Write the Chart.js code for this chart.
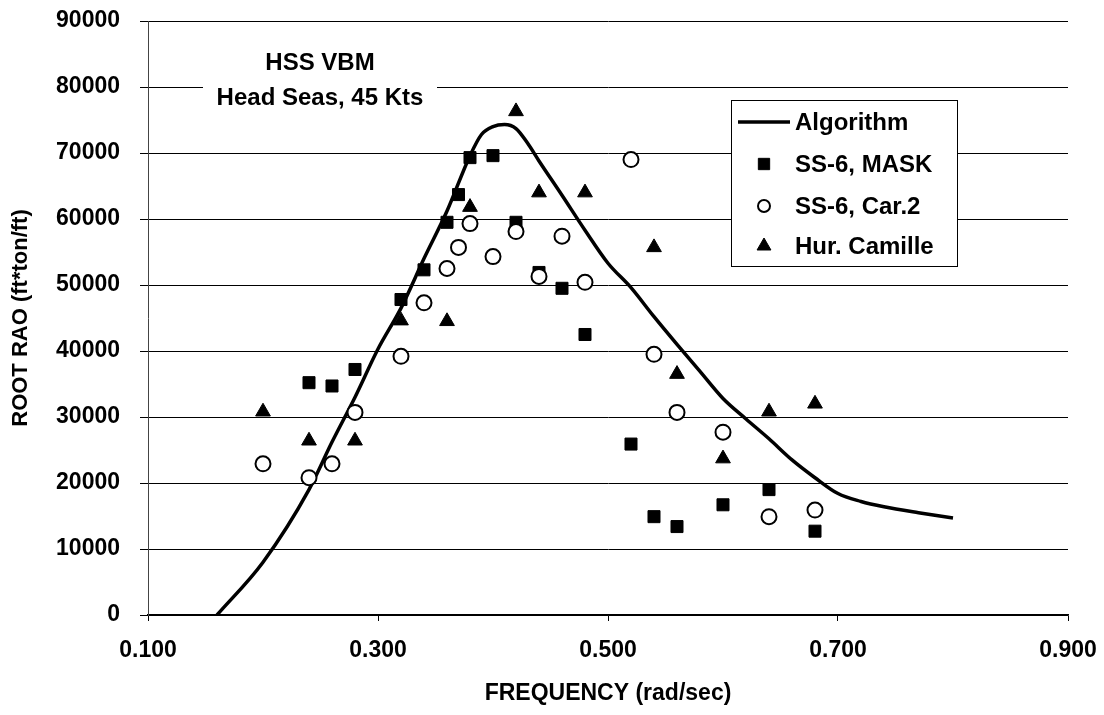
<!DOCTYPE html>
<html lang="en">
<head>
    <meta charset="UTF-8">
    <title>HSS VBM - Root RAO</title>
    <script src="https://cdn.jsdelivr.net/npm/chart.js"></script>
    <style>
        body {
            margin: 0;
            padding: 0;
            background: #fff;
        }
        .chart-box {
            position: relative;
            width: 1104px;
            height: 715px;
        }
    </style>
</head>
<body>
    <div class="chart-box">
        <canvas id="raoChart" width="1104" height="715"></canvas>
    </div>

    <script>
        // Algorithm curve
        const algoFreq = [0.16, 0.20, 0.24, 0.26, 0.28, 0.30, 0.32, 0.34, 0.36, 0.38, 0.39, 0.40, 0.41, 0.42, 0.43, 0.44,
                          0.46, 0.48, 0.50, 0.52, 0.54, 0.56, 0.58, 0.60, 0.62, 0.64, 0.66, 0.68, 0.70, 0.72, 0.74, 0.77, 0.80];
        const algoRao  = [0, 8000, 19000, 26200, 33000, 40300, 46500, 54000, 61200, 69600, 72800, 74000, 74300, 73700, 71500, 68800,
                          63600, 58300, 53300, 49600, 45200, 41000, 36900, 32800, 29700, 26700, 23500, 20800, 18400, 17200, 16400, 15500, 14700];

        // SS-6, MASK (filled squares)
        const maskFreq = [0.24, 0.26, 0.28, 0.32, 0.34, 0.36, 0.37, 0.38, 0.40, 0.42, 0.44, 0.46, 0.48, 0.52, 0.54, 0.56, 0.60, 0.64, 0.68];
        const maskRao  = [35200, 34700, 37200, 47800, 52300, 59500, 63700, 69300, 69600, 59500, 51900, 49500, 42500, 25900, 14900, 13400, 16700, 19000, 12700];

        // SS-6, Car.2 (open circles)
        const car2Freq = [0.20, 0.24, 0.26, 0.28, 0.32, 0.34, 0.36, 0.37, 0.38, 0.40, 0.42, 0.44, 0.46, 0.48, 0.52, 0.54, 0.56, 0.60, 0.64, 0.68];
        const car2Rao  = [22900, 20800, 22900, 30700, 39200, 47300, 52500, 55700, 59300, 54300, 58100, 51300, 57400, 50400, 69000, 39500, 30700, 27700, 14900, 15900];

        // Hur. Camille (filled triangles)
        const camilleFreq = [0.20, 0.24, 0.28, 0.32, 0.36, 0.38, 0.42, 0.44, 0.48, 0.54, 0.56, 0.60, 0.64, 0.68];
        const camilleRao  = [30800, 26400, 26400, 44600, 44500, 61800, 76300, 64000, 64000, 55700, 36500, 23700, 30800, 32000];

        const xTicks = [0.1, 0.3, 0.5, 0.7, 0.9];
        const yTicks = [0, 10000, 20000, 30000, 40000, 50000, 60000, 70000, 80000, 90000];

        const toPoints = (xs, ys) => xs.map((x, i) => ({ x: x, y: ys[i] }));

        const boldFont = size => ({ family: "'Liberation Sans', Arial, sans-serif", size: size, weight: 'bold' });

        // white box with the "HSS VBM" note, top left of the plot
        const notePlugin = {
            id: 'note',
            afterDraw(chart) {
                const ctx = chart.ctx;
                ctx.save();
                ctx.fillStyle = '#fff';
                ctx.fillRect(203, 44, 234, 70);
                ctx.fillStyle = '#000';
                ctx.font = "bold 24px 'Liberation Sans', Arial, sans-serif";
                ctx.textAlign = 'center';
                ctx.textBaseline = 'middle';
                ctx.fillText('HSS VBM', 320, 63);
                ctx.fillText('Head Seas, 45 Kts', 320, 98);
                ctx.restore();
            }
        };

        // boxed legend inside the plot, like the original
        const boxLegend = {
            id: 'boxLegend',
            afterDraw(chart) {
                const ctx = chart.ctx;
                const left = 731, top = 100, right = 957, bottom = 266;
                const rows = [122, 164, 206, 246];
                const markX = 764, textX = 795;
                ctx.save();
                ctx.fillStyle = '#fff';
                ctx.fillRect(left, top, right - left, bottom - top);
                ctx.strokeStyle = '#000';
                ctx.lineWidth = 1;
                ctx.strokeRect(left + 0.5, top + 0.5, right - left, bottom - top);

                chart.data.datasets.forEach((ds, i) => {
                    const y = rows[i];
                    if (ds.showLine) {
                        ctx.beginPath();
                        ctx.strokeStyle = ds.borderColor;
                        ctx.lineWidth = ds.borderWidth;
                        ctx.moveTo(markX - 26, y);
                        ctx.lineTo(markX + 26, y);
                        ctx.stroke();
                    } else {
                        ctx.fillStyle = ds.backgroundColor;
                        ctx.strokeStyle = ds.borderColor;
                        ctx.lineWidth = ds.borderWidth;
                        Chart.helpers.drawPoint(ctx, {
                            pointStyle: ds.pointStyle,
                            radius: ds.legendRadius,
                            rotation: 0,
                            borderWidth: ds.borderWidth
                        }, markX, y);
                    }
                    ctx.fillStyle = '#000';
                    ctx.font = "bold 24px 'Liberation Sans', Arial, sans-serif";
                    ctx.textAlign = 'left';
                    ctx.textBaseline = 'middle';
                    ctx.fillText(ds.label, textX, y + 1);
                });
                ctx.restore();
            }
        };

        const ctx = document.getElementById('raoChart').getContext('2d');
        const chart = new Chart(ctx, {
            type: 'scatter',
            data: {
                datasets: [
                    {
                        label: 'Algorithm',
                        data: toPoints(algoFreq, algoRao),
                        showLine: true,
                        borderColor: '#000',
                        borderWidth: 3.5,
                        pointRadius: 0,
                        cubicInterpolationMode: 'monotone',
                        order: 4
                    },
                    {
                        label: 'SS-6, MASK',
                        data: toPoints(maskFreq, maskRao),
                        pointStyle: 'rect',
                        pointRadius: 8.5,
                        legendRadius: 8,
                        backgroundColor: '#000',
                        borderColor: '#000',
                        borderWidth: 1,
                        order: 3
                    },
                    {
                        label: 'SS-6, Car.2',
                        data: toPoints(car2Freq, car2Rao),
                        pointStyle: 'circle',
                        pointRadius: 7.5,
                        legendRadius: 6,
                        backgroundColor: '#fff',
                        borderColor: '#000',
                        borderWidth: 2,
                        order: 2
                    },
                    {
                        label: 'Hur. Camille',
                        data: toPoints(camilleFreq, camilleRao),
                        pointStyle: 'triangle',
                        pointRadius: 8.5,
                        legendRadius: 8,
                        backgroundColor: '#000',
                        borderColor: '#000',
                        borderWidth: 1,
                        order: 1
                    }
                ]
            },
            options: {
                responsive: false,
                animation: false,
                devicePixelRatio: 1,
                layout: { padding: { left: 8, right: 36, top: 21, bottom: 8 } },
                plugins: {
                    legend: { display: false },
                    tooltip: { enabled: false }
                },
                scales: {
                    x: {
                        type: 'linear',
                        min: 0.1,
                        max: 0.9,
                        afterBuildTicks: s => { s.ticks = xTicks.map(v => ({ value: v })); },
                        afterFit: s => {
                            s.height = 92;
                            s.paddingLeft = 0;
                            s.paddingRight = 0;
                        },
                        ticks: {
                            callback: v => Number(v).toFixed(3),
                            font: boldFont(23),
                            color: '#000',
                            padding: 16,
                            maxRotation: 0
                        },
                        grid: { drawOnChartArea: false, tickLength: 6, color: '#000' },
                        border: { color: '#000', width: 1.5 },
                        title: {
                            display: true,
                            text: 'FREQUENCY (rad/sec)',
                            font: boldFont(23),
                            color: '#000',
                            padding: { top: 0, bottom: 0 }
                        }
                    },
                    y: {
                        min: 0,
                        max: 90000,
                        afterBuildTicks: s => { s.ticks = yTicks.map(v => ({ value: v })); },
                        afterFit: s => {
                            s.width = 140;
                            s.paddingTop = 0;
                            s.paddingBottom = 0;
                        },
                        ticks: {
                            callback: v => String(v),
                            font: boldFont(23),
                            color: '#000',
                            padding: 20
                        },
                        grid: { color: '#000', lineWidth: 1, tickLength: 8 },
                        border: { color: '#444', width: 1 },
                        title: {
                            display: true,
                            text: 'ROOT RAO (ft*ton/ft)',
                            font: boldFont(22),
                            color: '#000',
                            padding: { top: 0, bottom: 0 }
                        }
                    }
                }
            },
            plugins: [notePlugin, boxLegend]
        });
    </script>
</body>
</html>
